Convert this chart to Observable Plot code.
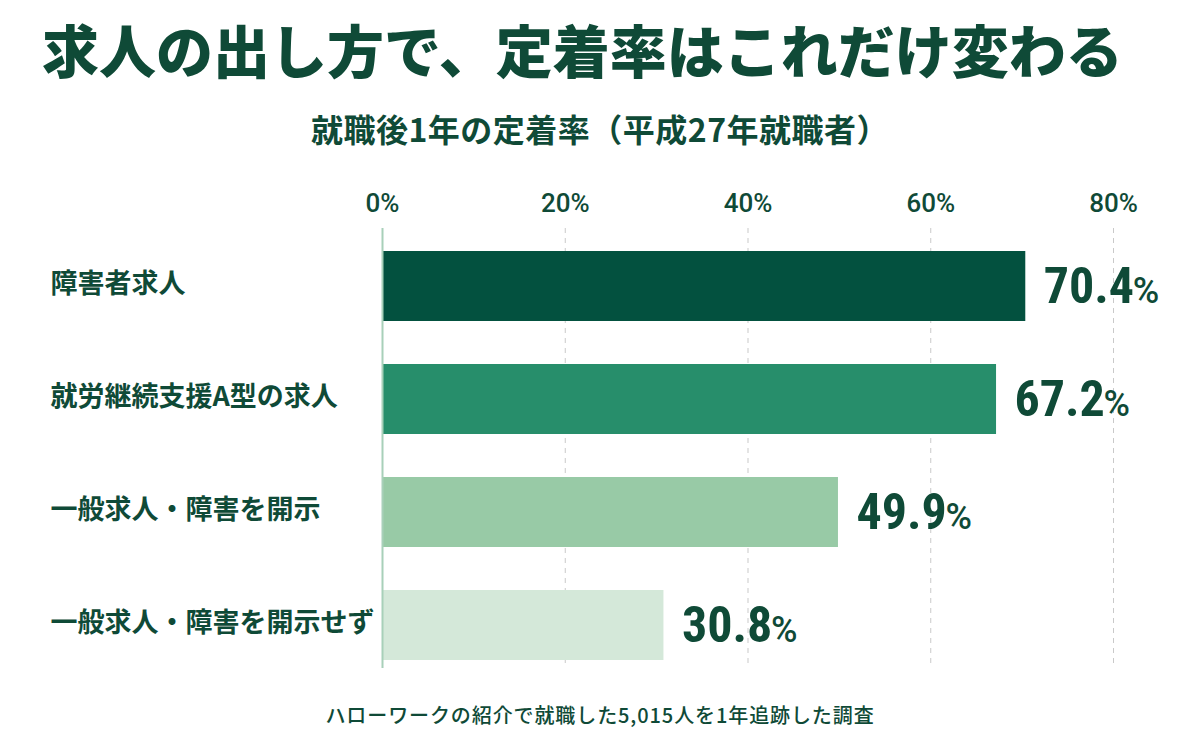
<!DOCTYPE html>
<html>
<head>
<meta charset="utf-8">
<script src="https://cdn.jsdelivr.net/npm/d3@7"></script>
<script src="https://cdn.jsdelivr.net/npm/@observablehq/plot@0.6"></script>
<style>
  html, body { margin: 0; padding: 0; background: #ffffff; }
  body { width: 1200px; height: 750px; position: relative; overflow: hidden;
         font-family: "Noto Sans CJK JP", "Noto Sans", sans-serif; color: #0f4a37; }
  #title { position: absolute; left: 42px; top: 20px; font-size: 57px; font-weight: 900;
           line-height: 1; letter-spacing: 0px; white-space: nowrap; }
  #subtitle { position: absolute; left: 0; width: 1200px; top: 112px; text-align: center;
              font-size: 32px; font-weight: 700; line-height: 1; letter-spacing: 0.5px; white-space: nowrap; }
  #chart { position: absolute; left: 0; top: 160px; }
  #caption { position: absolute; left: 0; width: 1200px; top: 705px; text-align: center;
             font-size: 20px; font-weight: 500; line-height: 1; letter-spacing: 0.9px; white-space: nowrap; }
</style>
</head>
<body>
<div id="title">求人の出し方で、定着率はこれだけ変わる</div>
<div id="subtitle">就職後1年の定着率（平成27年就職者）</div>
<div id="chart"></div>
<div id="caption">ハローワークの紹介で就職した5,015人を1年追跡した調査</div>
<script>
const categories = ["障害者求人", "就労継続支援A型の求人", "一般求人・障害を開示", "一般求人・障害を開示せず"];
const values = [70.4, 67.2, 49.9, 30.8];
const barColors = ["#03513f", "#278e6b", "#98caa6", "#d4e8d9"];
const tickValues = [0, 20, 40, 60, 80];

const data = categories.map((c, i) => ({category: c, value: values[i]}));
const textColor = "#0f4a37";
const numFont = "'Liberation Sans Narrow', 'Roboto Condensed', Roboto, sans-serif";

const plot = Plot.plot({
  width: 1200,
  height: 540,
  marginLeft: 382,
  marginRight: 87,
  marginTop: 70,
  marginBottom: 18,
  x: {domain: [0, 80]},
  y: {domain: categories, paddingInner: 0.38, paddingOuter: 0.19},
  color: {domain: categories, range: barColors},
  style: {fontFamily: "'Noto Sans CJK JP', sans-serif", color: textColor, background: "transparent"},
  marks: [
    Plot.ruleX(tickValues.filter(t => t > 0), {stroke: "#c9c9c9", strokeWidth: 1, strokeDasharray: "5,5", insetTop: -2, insetBottom: 14}),
    Plot.barX(data, {x: "value", y: "category", fill: "category"}),
    Plot.ruleX([0], {stroke: "#a8d0b9", strokeWidth: 2, insetTop: -2, insetBottom: 14}),
    Plot.axisX({anchor: "top", ticks: tickValues, tickSize: 0, tickPadding: 19,
                tickFormat: d => d + "%", fontSize: 26, fontWeight: 500, fill: textColor, label: null,
                fontFamily: "Roboto, sans-serif"}),
    Plot.axisY({tickSize: 0, tickPadding: 332, textAnchor: "start", fontSize: 27, fontWeight: 700,
                fill: textColor, label: null, dy: -2}),
    Plot.text(data, {x: "value", y: "category", text: d => d.value.toFixed(1), dx: 18, textAnchor: "start",
                     fontSize: 50, fontWeight: 700, fill: textColor, fontFamily: numFont}),
    Plot.text(data, {x: "value", y: "category", text: () => "%", dx: 107, dy: 5, textAnchor: "start",
                     fontSize: 36, fontWeight: 500, fill: textColor, fontFamily: "Roboto, sans-serif"})
  ]
});
document.getElementById("chart").appendChild(plot);
</script>
</body>
</html>
